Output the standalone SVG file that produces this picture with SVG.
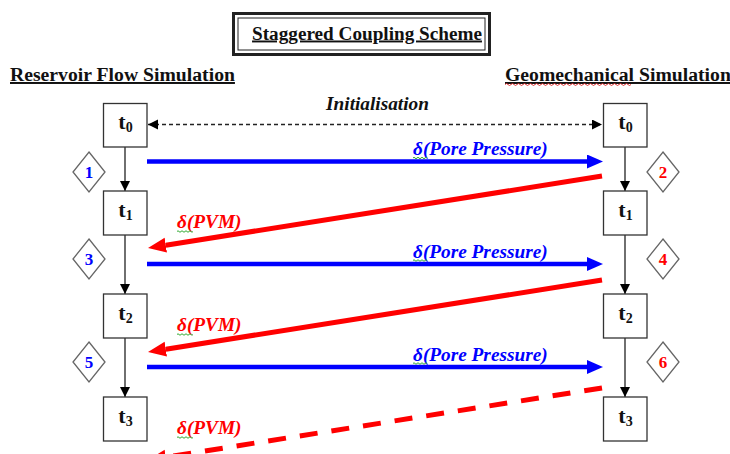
<svg xmlns="http://www.w3.org/2000/svg" width="730" height="454" viewBox="0 0 730 454">
<defs>
<style>
.box{fill:#fff;stroke:#333;stroke-width:1.3}
.dia{fill:#fff;stroke:#666;stroke-width:1.3}
.tl{font-family:"Liberation Serif","Times New Roman",serif;font-weight:bold;font-size:22px;fill:#111;text-anchor:middle}
.sub{font-size:14px}
.num{font-family:"Liberation Serif","Times New Roman",serif;font-weight:bold;font-size:17px;text-anchor:middle}
.hdr{font-family:"Liberation Serif","Times New Roman",serif;font-weight:bold;font-size:19.7px;fill:#111;text-decoration:underline}
.lbl{font-family:"Liberation Serif","Times New Roman",serif;font-weight:bold;font-style:italic;font-size:19.3px}
.vline{stroke:#333;stroke-width:1.4;fill:none}
.blue{stroke:#0000ff;stroke-width:4.5;fill:none}
.red{stroke:#ff0000;stroke-width:5;fill:none}
.sq{fill:none;stroke-width:1}
</style>
<marker id="vh" markerUnits="userSpaceOnUse" markerWidth="12" markerHeight="12" refX="10" refY="5" orient="auto">
<path d="M0,0 L10,5 L0,10 z" fill="#000"/>
</marker>
<marker id="dh" markerUnits="userSpaceOnUse" markerWidth="12" markerHeight="12" refX="10" refY="5" orient="auto-start-reverse">
<path d="M0,0 L10,5 L0,10 z" fill="#000"/>
</marker>
<marker id="bh" markerUnits="userSpaceOnUse" markerWidth="18" markerHeight="16" refX="0" refY="7" orient="auto">
<path d="M0,0 L16,7 L0,14 z" fill="#0000ff"/>
</marker>
<marker id="rh" markerUnits="userSpaceOnUse" markerWidth="20" markerHeight="16" refX="0" refY="7.5" orient="auto">
<path d="M0,0 L18,7.5 L0,15 z" fill="#ff0000"/>
</marker>
</defs>
<rect width="730" height="454" fill="#fff"/>

<g id="title">
<rect x="233.5" y="13.5" width="256" height="41" fill="#fff" stroke="#222" stroke-width="3"/>
<rect x="238" y="18" width="247" height="32" fill="none" stroke="#222" stroke-width="1"/>
<text class="hdr" x="367" y="39.5" text-anchor="middle" style="font-size:19.2px">Staggered Coupling Scheme</text>
</g>
<g id="hdr-left"><text class="hdr" x="10" y="81">Reservoir Flow Simulation</text></g>
<g id="hdr-right"><text class="hdr" x="505" y="81">Geomechanical Simulation</text>
<path class="sq" stroke="#e03030" d="M505,84.5 q1.5,-2 3,0 t3,0 t3,0 t3,0 t3,0 t3,0 t3,0 t3,0 t3,0 t3,0 t3,0 t3,0 t3,0 t3,0 t3,0 t3,0 t3,0 t3,0 t3,0 t3,0 t3,0 t3,0 t3,0 t3,0 t3,0 t3,0 t3,0 t3,0 t3,0 t3,0 t3,0 t3,0 t3,0 t3,0 t3,0 t3,0 t3,0 t3,0 t3,0 t3,0 t3,0 t3,0"/></g>

<g id="connectors">
<line class="vline" x1="125" y1="147" x2="125" y2="191" marker-end="url(#vh)"/>
<line class="vline" x1="125" y1="235" x2="125" y2="294" marker-end="url(#vh)"/>
<line class="vline" x1="125" y1="338" x2="125" y2="397" marker-end="url(#vh)"/>
<line class="vline" x1="625" y1="147" x2="625" y2="191" marker-end="url(#vh)"/>
<line class="vline" x1="625" y1="235" x2="625" y2="294" marker-end="url(#vh)"/>
<line class="vline" x1="625" y1="338" x2="625" y2="397" marker-end="url(#vh)"/>
<line x1="148" y1="124.5" x2="602" y2="124.5" stroke="#222" stroke-width="1.3" stroke-dasharray="4 3" marker-start="url(#dh)" marker-end="url(#dh)"/>
<line class="blue" x1="147" y1="161.5" x2="587" y2="161.5" marker-end="url(#bh)"/>
<line class="blue" x1="147" y1="264" x2="587" y2="264" marker-end="url(#bh)"/>
<line class="blue" x1="147" y1="367" x2="587" y2="367" marker-end="url(#bh)"/>
<line class="red" x1="602" y1="176" x2="165.8" y2="245.2" marker-end="url(#rh)"/>
<line class="red" x1="602" y1="280" x2="165.8" y2="349.2" marker-end="url(#rh)"/>
<line class="red" x1="602" y1="388" x2="165.8" y2="457.2" stroke-dasharray="18 14" marker-end="url(#rh)"/>
</g>

<g id="init"><text class="lbl" x="377.5" y="110" text-anchor="middle" fill="#111">Initialisation</text></g>

<g id="lbl-pp1"><text class="lbl" x="413" y="155" fill="#0000ff">δ(Pore Pressure)</text>
<path class="sq" stroke="#3a3" d="M413,158 q1,-1.5 2,0 t2,0 t2,0 t2,0 t2,0 t2,0 t2,0"/></g>
<g id="lbl-pp2"><text class="lbl" x="413" y="257.5" fill="#0000ff">δ(Pore Pressure)</text>
<path class="sq" stroke="#3a3" d="M413,260.5 q1,-1.5 2,0 t2,0 t2,0 t2,0 t2,0 t2,0 t2,0"/></g>
<g id="lbl-pp3"><text class="lbl" x="413" y="360.5" fill="#0000ff">δ(Pore Pressure)</text>
<path class="sq" stroke="#3a3" d="M413,363.5 q1,-1.5 2,0 t2,0 t2,0 t2,0 t2,0 t2,0 t2,0"/></g>
<g id="lbl-pvm1"><text class="lbl" x="177" y="228" fill="#ff0000">δ(PVM)</text>
<path class="sq" stroke="#3a3" d="M177,231.5 q1,-1.5 2,0 t2,0 t2,0 t2,0 t2,0 t2,0 t2,0 t2,0"/></g>
<g id="lbl-pvm2"><text class="lbl" x="177" y="331" fill="#ff0000">δ(PVM)</text>
<path class="sq" stroke="#3a3" d="M177,334.5 q1,-1.5 2,0 t2,0 t2,0 t2,0 t2,0 t2,0 t2,0 t2,0"/></g>
<g id="lbl-pvm3"><text class="lbl" x="177" y="434" fill="#ff0000">δ(PVM)</text>
<path class="sq" stroke="#3a3" d="M177,437.5 q1,-1.5 2,0 t2,0 t2,0 t2,0 t2,0 t2,0 t2,0 t2,0"/></g>

<g id="L-t0"><rect class="box" x="103.5" y="103.5" width="43.5" height="43.5"/><text class="tl" x="125.5" y="129">t<tspan class="sub" dy="3">0</tspan></text></g>
<g id="L-t1"><rect class="box" x="103.5" y="191" width="43.5" height="44"/><text class="tl" x="125.5" y="217">t<tspan class="sub" dy="3">1</tspan></text></g>
<g id="L-t2"><rect class="box" x="103.5" y="294" width="43.5" height="44"/><text class="tl" x="125.5" y="320">t<tspan class="sub" dy="3">2</tspan></text></g>
<g id="L-t3"><rect class="box" x="103.5" y="397" width="43.5" height="44"/><text class="tl" x="125.5" y="423">t<tspan class="sub" dy="3">3</tspan></text></g>
<g id="R-t0"><rect class="box" x="603.5" y="103.5" width="43.5" height="43.5"/><text class="tl" x="625.5" y="129">t<tspan class="sub" dy="3">0</tspan></text></g>
<g id="R-t1"><rect class="box" x="603.5" y="191" width="43.5" height="44"/><text class="tl" x="625.5" y="217">t<tspan class="sub" dy="3">1</tspan></text></g>
<g id="R-t2"><rect class="box" x="603.5" y="294" width="43.5" height="44"/><text class="tl" x="625.5" y="320">t<tspan class="sub" dy="3">2</tspan></text></g>
<g id="R-t3"><rect class="box" x="603.5" y="397" width="43.5" height="44"/><text class="tl" x="625.5" y="423">t<tspan class="sub" dy="3">3</tspan></text></g>

<g id="d1"><path class="dia" d="M89,152 L105,172 L89,192 L73,172 z"/><text class="num" x="89" y="178" fill="#0000ff">1</text></g>
<g id="d3"><path class="dia" d="M89,239 L105,259 L89,279 L73,259 z"/><text class="num" x="89" y="265" fill="#0000ff">3</text></g>
<g id="d5"><path class="dia" d="M89,342 L105,362 L89,382 L73,362 z"/><text class="num" x="89" y="368" fill="#0000ff">5</text></g>
<g id="d2"><path class="dia" d="M663,152 L679,172 L663,192 L647,172 z"/><text class="num" x="663" y="178" fill="#ff0000">2</text></g>
<g id="d4"><path class="dia" d="M663,239 L679,259 L663,279 L647,259 z"/><text class="num" x="663" y="265" fill="#ff0000">4</text></g>
<g id="d6"><path class="dia" d="M663,342 L679,362 L663,382 L647,362 z"/><text class="num" x="663" y="368" fill="#ff0000">6</text></g>
</svg>
